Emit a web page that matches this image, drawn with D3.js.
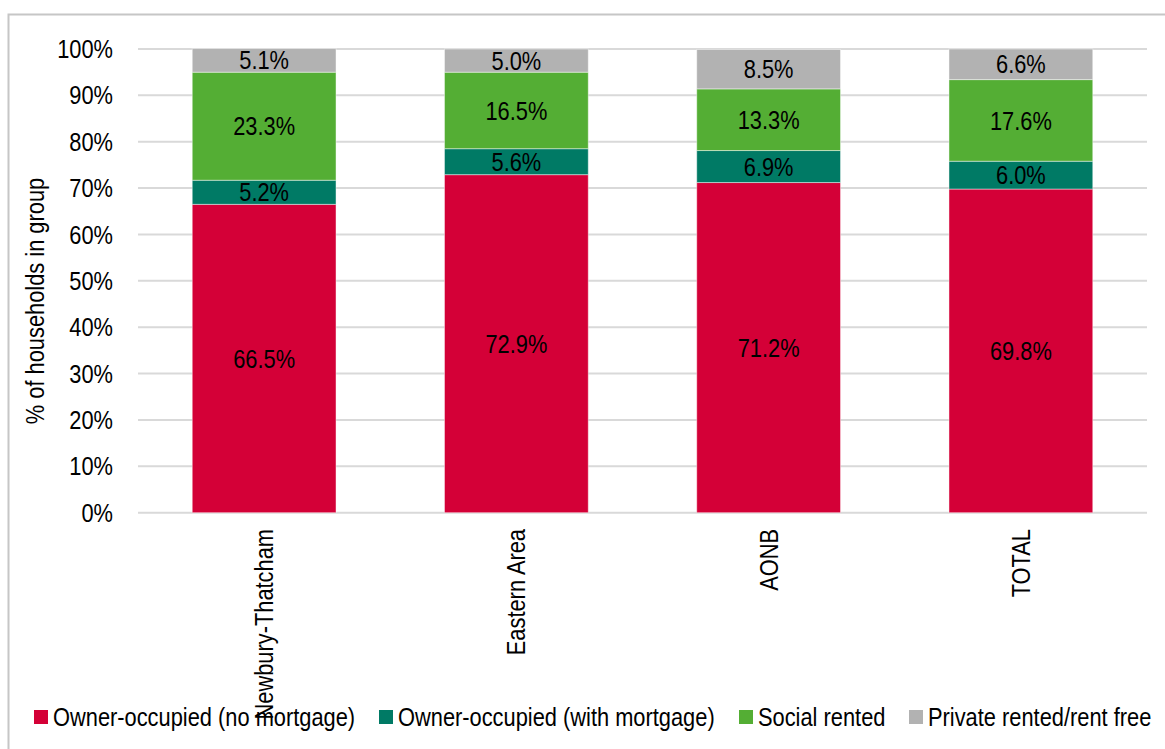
<!DOCTYPE html>
<html>
<head>
<meta charset="utf-8">
<script src="https://cdn.jsdelivr.net/npm/d3@7"></script>
<style>
  html, body { margin: 0; padding: 0; background: #fff; }
  svg { display: block; }
  text { font-family: 'Liberation Sans Narrow', 'Arial Narrow', 'Liberation Sans', Arial, sans-serif; fill: #000; }
</style>
</head>
<body>
<div id="chart"></div>
<script>
// Household tenure shares by area (% of households in group)
const categories = ["Newbury-Thatcham", "Eastern Area", "AONB", "TOTAL"];
const seriesNames = [
  "Owner-occupied (no mortgage)",
  "Owner-occupied (with mortgage)",
  "Social rented",
  "Private rented/rent free"
];
const ownerNoMortgage = [66.5, 72.9, 71.2, 69.8];
const ownerWithMortgage = [5.2, 5.6, 6.9, 6.0];
const socialRented = [23.3, 16.5, 13.3, 17.6];
const privateRented = [5.1, 5.0, 8.5, 6.6];
const yTicks = [0, 10, 20, 30, 40, 50, 60, 70, 80, 90, 100];
const colors = ["#D40037", "#007A65", "#54AE34", "#B2B2B2"];

const W = 1165, H = 749;
const FONT = 26;
const SQUEEZE = 0.84; // condensed type: horizontal squeeze of glyphs

const svg = d3.select("#chart").append("svg")
  .attr("width", W).attr("height", H);

// chart frame
svg.append("rect")
  .attr("x", 8.5).attr("y", 14.5)
  .attr("width", 1300).attr("height", 900)
  .attr("fill", "#fff")
  .attr("stroke", "#c6c6c6").attr("stroke-width", 2);

const plot = { left: 138, right: 1147, top: 49, bottom: 512.7 };

const x = d3.scaleBand()
  .domain(categories)
  .range([plot.left, plot.right])
  .paddingInner(0.43).paddingOuter(0.215);

const y = d3.scaleLinear()
  .domain([0, 100])
  .range([plot.bottom, plot.top]);

// gridlines
svg.append("g").selectAll("line")
  .data(yTicks)
  .join("line")
  .attr("x1", plot.left).attr("x2", plot.right)
  .attr("y1", d => y(d)).attr("y2", d => y(d))
  .attr("stroke", "#d9d9d9").attr("stroke-width", 2);

// y tick labels
svg.append("g").selectAll("text")
  .data(yTicks)
  .join("text")
  .attr("transform", d => `translate(113,${y(d)}) scale(${SQUEEZE},1)`)
  .attr("dy", "0.35em")
  .attr("text-anchor", "end")
  .attr("font-size", FONT)
  .text(d => d + "%");

// y axis title
svg.append("text")
  .attr("transform", `translate(35,301) rotate(-90) scale(${SQUEEZE},1)`)
  .attr("text-anchor", "middle")
  .attr("dy", "0.35em")
  .attr("font-size", FONT)
  .text("% of households in group");

// stacked data
const rows = categories.map((c, i) => ({
  cat: c,
  s0: ownerNoMortgage[i],
  s1: ownerWithMortgage[i],
  s2: socialRented[i],
  s3: privateRented[i]
}));
const keys = ["s0", "s1", "s2", "s3"];
const stacked = d3.stack().keys(keys)(rows);

const layers = svg.append("g").selectAll("g")
  .data(stacked)
  .join("g")
  .attr("fill", (d, i) => colors[i]);

layers.selectAll("rect")
  .data(d => d.map(p => ({ p, key: d.key })))
  .join("rect")
  .attr("x", d => x(d.p.data.cat))
  .attr("width", x.bandwidth())
  .attr("y", d => y(d.p[1]))
  .attr("height", d => y(d.p[0]) - y(d.p[1]))
  .attr("stroke", "rgba(255,255,255,0.45)")
  .attr("stroke-width", 1);

// value labels
layers.selectAll("text")
  .data(d => d.map(p => ({ p, key: d.key })))
  .join("text")
  .attr("transform", d =>
    `translate(${x(d.p.data.cat) + x.bandwidth() / 2},${y((d.p[0] + d.p[1]) / 2)}) scale(${SQUEEZE},1)`)
  .attr("dy", "0.35em")
  .attr("text-anchor", "middle")
  .attr("font-size", FONT)
  .style("fill", "#000")
  .text(d => d.p.data[d.key].toFixed(1) + "%");

// category labels (rotated)
svg.append("g").selectAll("text")
  .data(categories)
  .join("text")
  .attr("transform", d =>
    `translate(${x(d) + x.bandwidth() / 2},529) rotate(-90) scale(${SQUEEZE},1)`)
  .attr("text-anchor", "end")
  .attr("dy", "0.35em")
  .attr("font-size", FONT)
  .text(d => d);

// legend
const legendX = [34, 379, 739, 909];
const legend = svg.append("g").selectAll("g")
  .data(seriesNames)
  .join("g")
  .attr("transform", (d, i) => `translate(${legendX[i]},710)`);
legend.append("rect")
  .attr("width", 14).attr("height", 14)
  .attr("fill", (d, i) => colors[i]);
legend.append("text")
  .attr("transform", `translate(19,7) scale(${SQUEEZE},1)`)
  .attr("dy", "0.35em")
  .attr("font-size", FONT)
  .text(d => d);
</script>
</body>
</html>
